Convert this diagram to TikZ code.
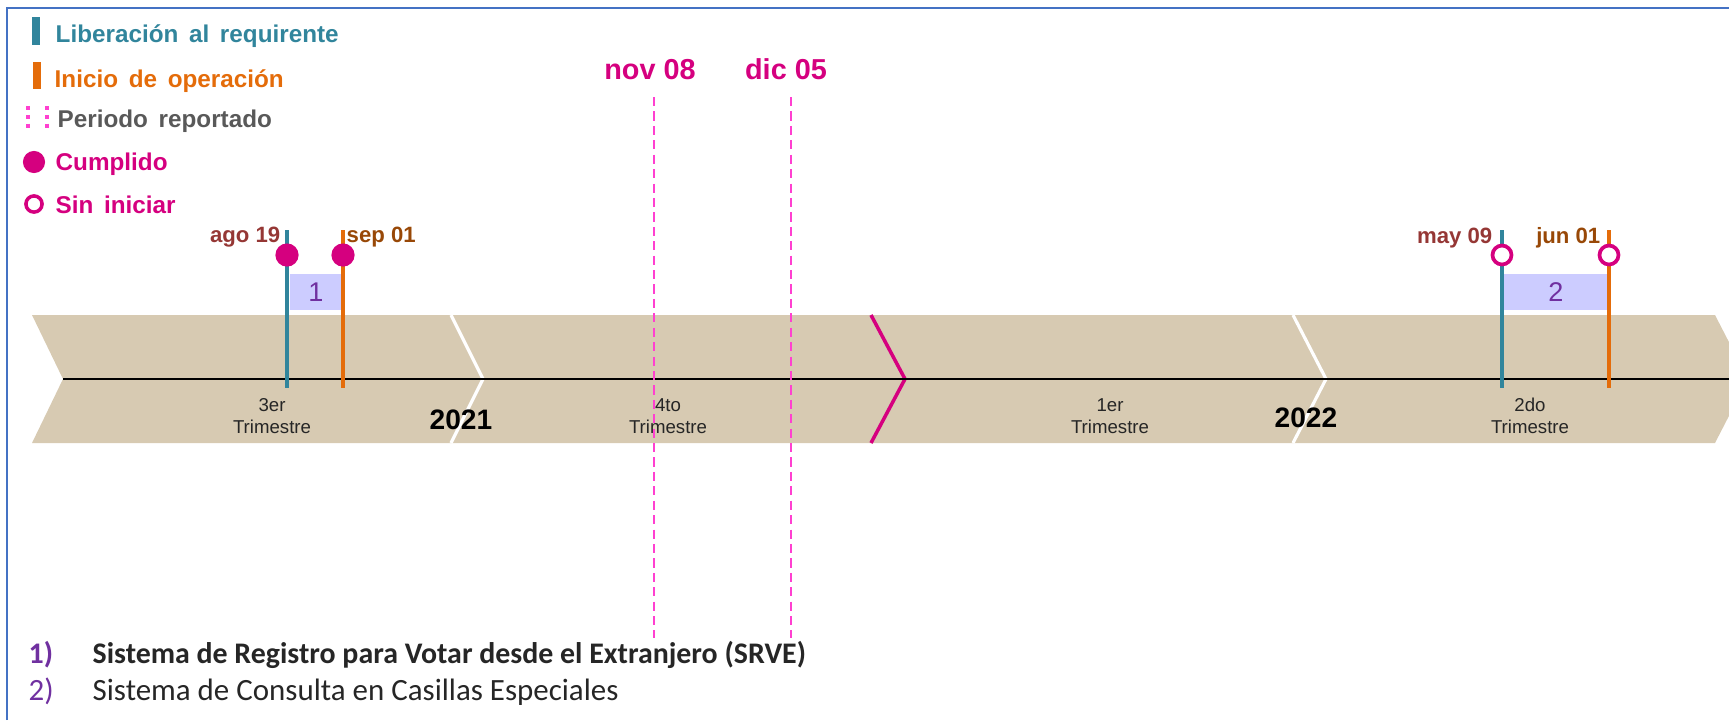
\documentclass[tikz,border=0pt]{standalone}
\usepackage{fontspec}
\setmainfont{Liberation Sans}
\newfontfamily\calibri{Carlito}
\usetikzlibrary{positioning}

\definecolor{cerceta}{HTML}{31859C}
\definecolor{naranja}{HTML}{E46C0A}
\definecolor{fucsia}{HTML}{D5007F}
\definecolor{rosa}{HTML}{FF40D0}
\definecolor{gris}{HTML}{595959}
\definecolor{vino}{HTML}{953735}
\definecolor{cafe}{HTML}{984807}
\definecolor{arena}{HTML}{D7CAB2}
\definecolor{lavanda}{HTML}{CCCCFF}
\definecolor{morado}{HTML}{7030A0}
\definecolor{marco}{HTML}{4472C4}
\definecolor{tinta}{HTML}{262626}

\begin{document}
\begin{tikzpicture}[
			x=0.01cm, y=-0.01cm,
			leyenda/.style={
				anchor=base west,
				inner sep=0pt,
				font=\fontsize{6.9}{8}\selectfont\bfseries
			},
			fecha/.style={
				anchor=base,
				inner sep=0pt,
				font=\fontsize{6.3}{7}\selectfont\bfseries
			},
			corte/.style={
				anchor=base,
				inner sep=0pt,
				text=fucsia,
				font=\fontsize{8.2}{9}\selectfont\bfseries
			},
			trimestre/.style={
				align=center,
				inner sep=0pt,
				text=tinta,
				font=\fontsize{5.3}{6.3}\selectfont
			},
			anio/.style={
				anchor=base,
				inner sep=0pt,
				font=\fontsize{8}{9}\selectfont\bfseries
			},
			caja/.style={
				rectangle,
				fill=lavanda,
				text=morado,
				minimum height=10pt,
				inner sep=0pt,
				font=\fontsize{7.7}{8}\selectfont
			},
			cumplido/.style={circle, fill=fucsia, minimum size=6.6pt, inner sep=0pt},
			sininiciar/.style={circle, draw=fucsia, fill=white, line width=1.05pt, minimum size=5.4pt, inner sep=0pt},
			liberacion/.style={draw=cerceta, line width=1.15pt},
			operacion/.style={draw=naranja, line width=1.15pt},
			reportado/.style={draw=rosa, line width=0.85pt, dash pattern=on 2.6pt off 1.5pt},
			nota/.style={
				anchor=base west,
				inner sep=0pt,
				text=tinta,
				font=\fontsize{8.8}{10}\selectfont\calibri
			}
			]
			\useasboundingbox (0,0) rectangle (1729,720);
			
			% Marco
			\draw[marco, line width=0.6pt] (7,720) -- (7,8) -- (1729,8);
			
			% Leyenda
			\fill[cerceta] (32,17) rectangle (40,45);
			\node[leyenda, text=cerceta] (lliberacion) at (55,42) {Liberación\hspace{0.44em}al\hspace{0.44em}requirente};
			\fill[naranja] (33,62) rectangle (41,89);
			\node[leyenda, text=naranja] (loperacion) at (54,87) {Inicio\hspace{0.44em}de\hspace{0.44em}operación};
			\draw[reportado, line width=1.1pt, dash pattern=on 1.2pt off 1.3pt] (28,106) -- (28,129);
			\draw[reportado, line width=1.1pt, dash pattern=on 1.2pt off 1.3pt] (47,106) -- (47,129);
			\node[leyenda, text=gris] (lreportado) at (57,127) {Periodo\hspace{0.44em}reportado};
			\node[cumplido, minimum size=6.3pt] (mcumplido) at (34,162) {};
			\node[leyenda, text=fucsia] (lcumplido) at (55,170) {Cumplido};
			\node[sininiciar, minimum size=4.6pt, line width=1pt] (msininiciar) at (34,204) {};
			\node[leyenda, text=fucsia] (lsininiciar) at (55,213) {Sin\hspace{0.44em}iniciar};
			
			% Banda de tiempo
			\fill[arena] (32,315) -- (1715,315) -- (1748,379) -- (1715,443) -- (32,443) -- (63,379) -- cycle;
			\draw[white, line width=0.9pt] (451,315) -- (483,379) -- (451,443);
			\draw[fucsia, line width=1pt] (871,315) -- (905,379) -- (871,443);
			\draw[white, line width=0.9pt] (1293,315) -- (1326,379) -- (1293,443);
			\draw[line width=0.6pt] (63,379) -- (1729,379);
			
			% Trimestres y años
			\node[trimestre] (t3) at (272,416) {3er\\Trimestre};
			\node[trimestre] (t4) at (668,416) {4to\\Trimestre};
			\node[trimestre] (t1) at (1110,416) {1er\\Trimestre};
			\node[trimestre] (t2) at (1530,416) {2do\\Trimestre};
			\node[anio] (a2021) at (461,429) {2021};
			\node[anio] (a2022) at (1306,427) {2022};
			
			% Periodo reportado
			\node[corte] (nov) at (650,79) {nov 08};
			\node[corte] (dic) at (786,79) {dic 05};
			\coordinate (novfin) at (654,638);
			\coordinate (dicfin) at (791,638);
			\draw[reportado] (654,97) -- (novfin);
			\draw[reportado] (791,97) -- (dicfin);
			
			% Sistema 1
			\node[caja, minimum width=14.8pt] (s1) at (316,292) {1};
			\coordinate (lib1) at (287,230);
			\coordinate (ope1) at (343,230);
			\draw[liberacion] (lib1) -- ++(0,158);
			\draw[operacion] (ope1) -- ++(0,158);
			\node[cumplido] (c1a) at (287,255) {};
			\node[cumplido] (c1b) at (343,255) {};
			\node[fecha, anchor=base east, text=vino] (f1a) at (281,242) {ago 19};
			\node[fecha, anchor=base west, text=cafe] (f1b) at (346,242) {sep 01};
			
			% Sistema 2
			\node[caja, minimum width=29.9pt] (s2) at (1556,292) {2};
			\coordinate (lib2) at (1502,230);
			\coordinate (ope2) at (1609,230);
			\draw[liberacion] (lib2) -- ++(0,158);
			\draw[operacion] (ope2) -- ++(0,158);
			\node[sininiciar] (c2a) at (1502,255) {};
			\node[sininiciar] (c2b) at (1609,255) {};
			\node[fecha, anchor=base east, text=vino] (f2a) at (1493,243) {may 09};
			\node[fecha, anchor=base east, text=cafe] (f2b) at (1601,243) {jun 01};
			
			% Notas
			\node[nota, text=morado, font=\fontsize{8.5}{10}\selectfont\calibri\bfseries] (n1) at (28,663) {1)};
			\node[nota, font=\fontsize{8.5}{10}\selectfont\calibri\bfseries] (d1) at (92,663) {Sistema de Registro para Votar desde el Extranjero (SRVE)};
			\node[nota, text=morado] (n2) at (28,700) {2)};
			\node[nota] (d2) at (92,700) {Sistema de Consulta en Casillas Especiales};
			
		\end{tikzpicture}
\end{document}
